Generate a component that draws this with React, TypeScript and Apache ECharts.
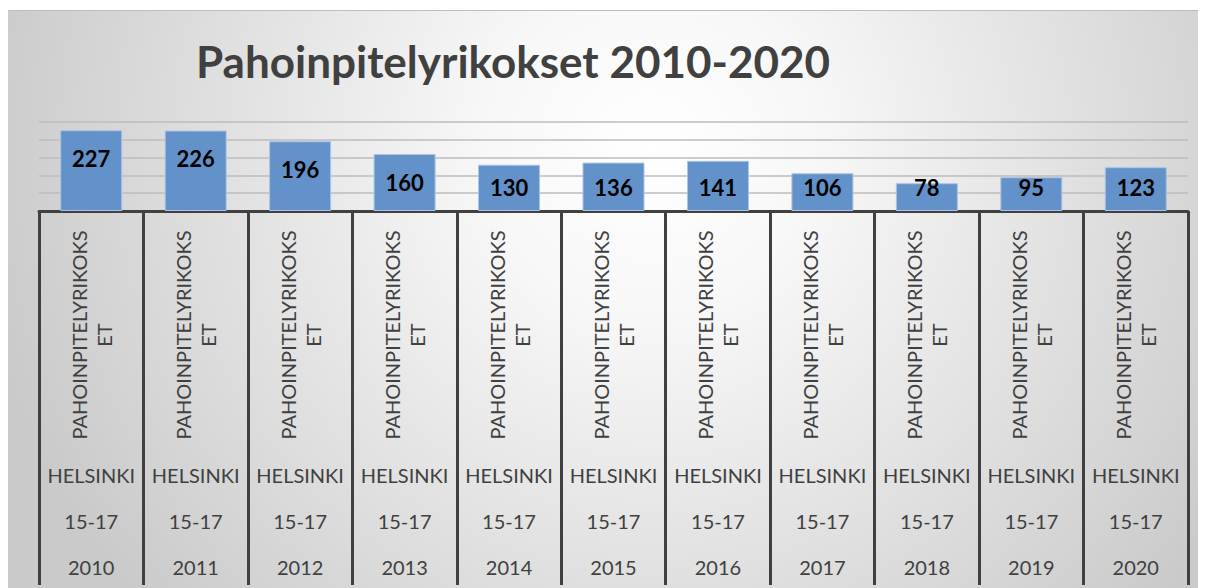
import React, { useEffect, useRef } from "react";
import * as echarts from "echarts";

const years = ["2010", "2011", "2012", "2013", "2014", "2015", "2016", "2017", "2018", "2019", "2020"];
const ageGroups = ["15-17", "15-17", "15-17", "15-17", "15-17", "15-17", "15-17", "15-17", "15-17", "15-17", "15-17"];
const regions = ["HELSINKI", "HELSINKI", "HELSINKI", "HELSINKI", "HELSINKI", "HELSINKI", "HELSINKI", "HELSINKI", "HELSINKI", "HELSINKI", "HELSINKI"];
const crimeTypes = [
  "PAHOINPITELYRIKOKS\nET", "PAHOINPITELYRIKOKS\nET", "PAHOINPITELYRIKOKS\nET", "PAHOINPITELYRIKOKS\nET",
  "PAHOINPITELYRIKOKS\nET", "PAHOINPITELYRIKOKS\nET", "PAHOINPITELYRIKOKS\nET", "PAHOINPITELYRIKOKS\nET",
  "PAHOINPITELYRIKOKS\nET", "PAHOINPITELYRIKOKS\nET", "PAHOINPITELYRIKOKS\nET",
];
const values = [227, 226, 196, 160, 130, 136, 141, 106, 78, 95, 123];
const title = "Pahoinpitelyrikokset 2010-2020";

const FONT = "Lato";
const TEXT = "#404040";

export default function App() {
  const ref = useRef<HTMLDivElement>(null);
  useEffect(() => {
    if (!ref.current) return;
    const chart = echarts.init(ref.current, undefined, { renderer: "svg" });
    const levelAxis = (data: string[], margin: number) => ({
      type: "category",
      data,
      position: "bottom",
      gridIndex: 0,
      axisLine: { show: false },
      axisTick: { show: false },
      axisLabel: {
        interval: 0,
        margin,
        verticalAlign: "middle",
        color: TEXT,
        fontFamily: FONT,
        fontSize: 20,
      },
    });
    chart.setOption({
      animation: false,
      graphic: [
        {
          type: "rect",
          z: -10,
          silent: true,
          shape: { x: 0, y: 2, width: 1198, height: 578 },
          style: {
            fill: new echarts.graphic.RadialGradient(
              642,
              142,
              680,
              [
                { offset: 0, color: "#ffffff" },
                { offset: 0.25, color: "#f7f7f7" },
                { offset: 1, color: "#cacaca" },
              ],
              true
            ),
          },
        },
        {
          type: "line",
          z: -9,
          silent: true,
          shape: { x1: 0, y1: 2.5, x2: 1198, y2: 2.5 },
          style: { stroke: "#bdbdbd", lineWidth: 1 },
        },
      ],
      title: {
        text: title,
        left: 183,
        top: 22,
        textStyle: {
          fontFamily: FONT,
          fontWeight: "bold",
          fontSize: 44,
          lineHeight: 52,
          color: TEXT,
        },
      },
      grid: { left: 31, right: 18, top: 114, bottom: 377 },
      xAxis: [
        {
          type: "category",
          data: crimeTypes,
          position: "bottom",
          axisLine: { show: true, lineStyle: { color: TEXT, width: 3 } },
          axisTick: { show: true, interval: 0, length: 374, lineStyle: { color: TEXT, width: 3 } },
          axisLabel: {
            interval: 0,
            rotate: 90,
            align: "center",
            verticalAlign: "middle",
            margin: 124,
            color: TEXT,
            fontFamily: FONT,
            fontSize: 20,
            lineHeight: 25,
            padding: [0, 0, 6, 0],
          },
        },
        levelAxis(regions, 264),
        levelAxis(ageGroups, 310),
        levelAxis(years, 356),
      ],
      yAxis: {
        type: "value",
        min: 0,
        max: 250,
        interval: 50,
        axisLabel: { show: false },
        axisLine: { show: false },
        axisTick: { show: false },
        splitLine: { lineStyle: { color: "#bcbcbc", width: 1.5 } },
      },
      series: [
        {
          type: "bar",
          xAxisIndex: 0,
          barWidth: 62,
          itemStyle: { color: "#6391c9", borderColor: "#a9c5e6", borderWidth: 1 },
          label: {
            show: true,
            color: "#000",
            fontFamily: FONT,
            fontWeight: "bold",
            fontSize: 22,
          },
          data: values.map((v) => ({
            value: v,
            label: v < 150 ? { position: "insideBottom", distance: 13 } : { position: "insideTop", distance: 17 },
          })),
        },
      ],
    });
    return () => chart.dispose();
  }, []);
  return <div ref={ref} style={{ width: 1198, height: 580 }} />;
}
